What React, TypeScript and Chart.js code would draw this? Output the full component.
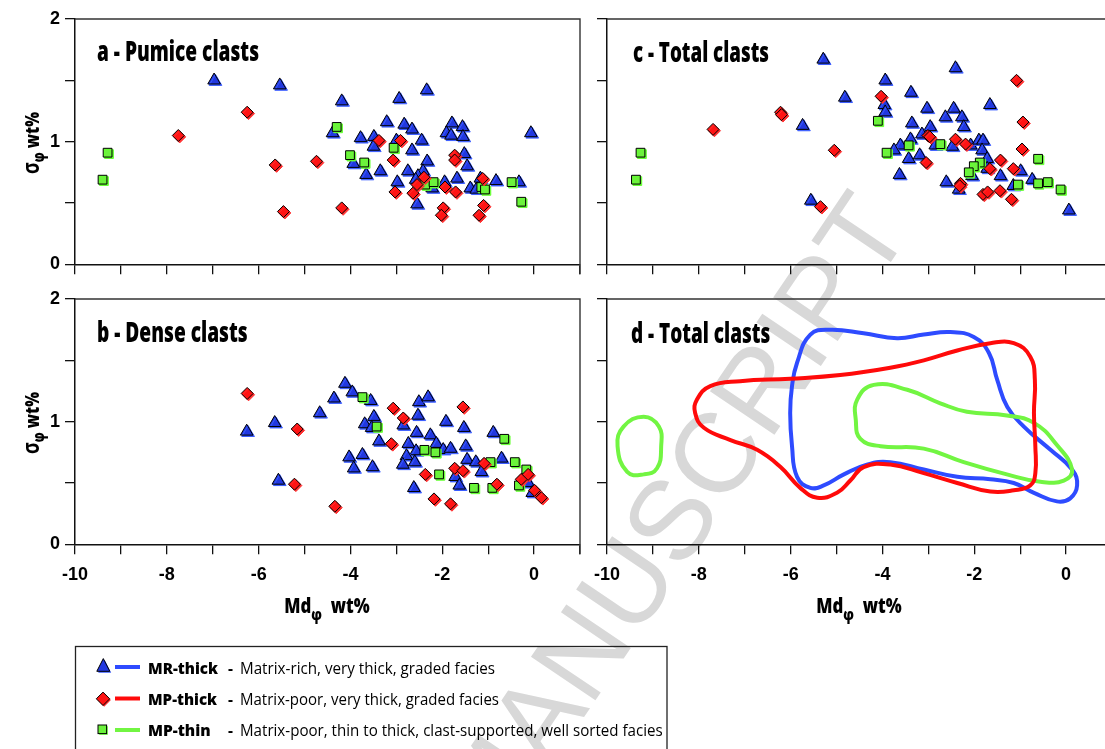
import React, { useEffect, useRef } from "react";
import { Chart, registerables } from "chart.js";

Chart.register(...registerables);

type Pt = [number, number];

// ---------------- axes / labels ----------------
const X_MIN = -10;
const X_MAX = 1;
const X_STEP = 1;
const Y_MIN = 0;
const Y_MAX = 2;
const Y_STEP = 0.5;
const X_TICK_LABELS = ["-10", "-8", "-6", "-4", "-2", "0"];
const Y_TICK_LABELS = ["0", "1", "2"];

const PANEL_TITLES = ["a - Pumice clasts", "b - Dense clasts", "c - Total clasts", "d - Total clasts"];
const SERIES_NAMES = ["MR-thick", "MP-thick", "MP-thin"];
const SERIES_DESCRIPTIONS = [
  "Matrix-rich, very thick, graded facies",
  "Matrix-poor, very thick, graded facies",
  "Matrix-poor, thin to thick, clast-supported, well sorted facies",
];

// ---------------- a - Pumice clasts ----------------
const pumiceMRthick: Pt[] = [
  [-6.97, 1.5], [-5.54, 1.46], [-4.19, 1.33], [-2.94, 1.35], [-2.34, 1.42], [-3.21, 1.16], [-2.83, 1.14],
  [-2.66, 1.1], [-4.39, 1.07], [-3.78, 1.03], [-3.49, 1.04], [-3.5, 0.96], [-3.0, 1.01], [-2.45, 1.01],
  [-1.79, 1.15], [-1.56, 1.12], [-1.91, 1.07], [-1.81, 1.05], [-1.55, 1.04], [-0.07, 1.07], [-2.66, 0.93],
  [-1.52, 0.9], [-3.94, 0.82], [-3.35, 0.76], [-3.66, 0.73], [-2.33, 0.84], [-2.75, 0.76], [-2.42, 0.76],
  [-2.53, 0.72], [-1.46, 0.8], [-2.98, 0.67], [-2.58, 0.69], [-1.95, 0.67], [-1.68, 0.7], [-2.22, 0.62],
  [-1.39, 0.62], [-1.17, 0.7], [-1.26, 0.61], [-0.83, 0.68], [-0.33, 0.67], [-2.55, 0.49],
];
const pumiceMPthick: Pt[] = [
  [-7.75, 1.05], [-6.25, 1.24], [-5.64, 0.81], [-5.46, 0.43], [-4.74, 0.84], [-4.19, 0.46], [-3.38, 1.01],
  [-2.91, 1.01], [-3.07, 0.85], [-3.03, 0.59], [-2.64, 0.58], [-2.55, 0.65], [-2.4, 0.71], [-1.94, 0.63],
  [-1.98, 0.46], [-2.02, 0.4], [-1.73, 0.89], [-1.73, 0.85], [-1.71, 0.59], [-1.12, 0.7], [-1.1, 0.48],
  [-1.2, 0.4],
];
const pumiceMPthin: Pt[] = [
  [-9.29, 0.91], [-9.4, 0.69], [-4.3, 1.12], [-4.01, 0.89], [-3.7, 0.83], [-3.06, 0.95], [-2.37, 0.65],
  [-2.19, 0.67], [-1.15, 0.63], [-1.07, 0.61], [-0.49, 0.67], [-0.28, 0.51],
];

// ---------------- b - Dense clasts ----------------
const denseMRthick: Pt[] = [
  [-6.26, 0.92], [-5.65, 0.99], [-5.57, 0.52], [-4.67, 1.07], [-4.36, 1.19], [-4.12, 1.31], [-3.96, 1.24],
  [-3.56, 1.17], [-3.49, 1.04], [-3.69, 0.98], [-3.54, 0.95], [-3.38, 0.84], [-4.03, 0.71], [-3.74, 0.73],
  [-3.93, 0.62], [-3.52, 0.63], [-2.85, 0.97], [-2.53, 1.05], [-2.51, 1.16], [-2.31, 1.2], [-2.56, 0.91],
  [-2.74, 0.82], [-2.26, 0.89], [-2.13, 0.82], [-2.57, 0.76], [-2.78, 0.72], [-2.86, 0.65], [-2.6, 0.67],
  [-1.98, 0.77], [-1.82, 0.78], [-1.92, 1.0], [-1.53, 0.95], [-1.49, 0.8], [-1.46, 0.69], [-1.27, 0.67],
  [-1.15, 0.59], [-1.72, 0.55], [-1.63, 0.48], [-2.62, 0.46], [-0.89, 0.91], [-0.71, 0.7], [-0.13, 0.5],
  [-0.04, 0.42],
];
const denseMPthick: Pt[] = [
  [-6.25, 1.23], [-5.16, 0.94], [-5.22, 0.49], [-4.34, 0.31], [-3.07, 1.11], [-2.85, 1.03], [-3.11, 0.82],
  [-2.37, 0.57], [-2.18, 0.37], [-1.82, 0.33], [-1.73, 0.62], [-1.55, 0.6], [-1.55, 1.12], [-1.09, 0.66],
  [-0.81, 0.49], [-0.28, 0.53], [-0.13, 0.57], [0.01, 0.44], [0.16, 0.38],
];
const denseMPthin: Pt[] = [
  [-3.74, 1.2], [-3.43, 0.96], [-2.39, 0.77], [-2.15, 0.75], [-2.07, 0.57], [-1.31, 0.46], [-0.95, 0.67],
  [-0.91, 0.46], [-0.65, 0.86], [-0.42, 0.67], [-0.17, 0.61], [-0.33, 0.48],
];

// ---------------- c - Total clasts ----------------
const totalMRthick: Pt[] = [
  [-5.29, 1.67], [-3.94, 1.5], [-4.82, 1.36], [-5.74, 1.13], [-3.96, 1.3], [-3.94, 1.24], [-3.38, 1.4],
  [-2.41, 1.6], [-3.03, 1.27], [-2.45, 1.27], [-2.63, 1.2], [-2.27, 1.2], [-2.23, 1.12], [-1.66, 1.3],
  [-3.36, 1.15], [-2.96, 1.12], [-3.14, 1.06], [-3.39, 1.02], [-3.61, 0.97], [-3.75, 0.93], [-2.85, 0.97],
  [-2.48, 0.96], [-2.08, 0.97], [-1.9, 1.01], [-1.81, 1.01], [-1.83, 0.93], [-1.72, 0.86], [-3.43, 0.86],
  [-3.19, 0.89], [-3.63, 0.73], [-1.72, 0.78], [-1.43, 0.72], [-0.99, 0.76], [-0.74, 0.69], [-2.05, 0.72],
  [-2.61, 0.67], [-2.34, 0.61], [-1.15, 0.64], [-5.56, 0.52], [0.06, 0.44],
];
const totalMPthick: Pt[] = [
  [-7.69, 1.1], [-6.22, 1.24], [-6.2, 1.22], [-4.03, 1.37], [-5.05, 0.93], [-5.35, 0.47], [-3.01, 1.05],
  [-2.97, 1.04], [-3.05, 0.83], [-2.41, 1.02], [-2.19, 0.98], [-2.3, 0.66], [-2.32, 0.64], [-1.81, 0.57],
  [-1.71, 0.59], [-1.66, 0.78], [-1.43, 0.85], [-1.44, 0.6], [-1.15, 0.78], [-1.19, 0.53], [-1.08, 1.5],
  [-0.94, 1.16], [-0.96, 0.94],
];
const totalMPthin: Pt[] = [
  [-9.27, 0.91], [-9.37, 0.69], [-4.1, 1.17], [-3.91, 0.91], [-3.43, 0.97], [-2.74, 0.98], [-1.88, 0.83],
  [-2.01, 0.8], [-2.12, 0.75], [-1.05, 0.65], [-0.61, 0.86], [-0.61, 0.66], [-0.4, 0.67], [-0.12, 0.61],
];

// ---------------- d - Total clasts (field outlines) ----------------
const outlineMRthick: Pt[] = [
  [-5.86, 1.48], [-5.57, 1.71], [-5.13, 1.75], [-4.41, 1.72], [-3.68, 1.68], [-3.1, 1.71], [-2.52, 1.73],
  [-2.01, 1.69], [-1.68, 1.56], [-1.5, 1.34], [-1.28, 1.12], [-0.92, 0.96], [-0.34, 0.77], [0.13, 0.61],
  [0.24, 0.48], [0.09, 0.375], [-0.2, 0.35], [-0.7, 0.42], [-1.14, 0.5], [-1.65, 0.53], [-2.37, 0.55],
  [-3.1, 0.61], [-3.83, 0.67], [-4.34, 0.65], [-4.84, 0.57], [-5.28, 0.48], [-5.57, 0.46], [-5.86, 0.55],
  [-5.97, 0.8], [-6.01, 1.07], [-5.97, 1.29],
];
const outlineMPthick: Pt[] = [
  [-8.04, 1.18], [-7.75, 1.29], [-7.1, 1.33], [-6.01, 1.35], [-4.92, 1.38], [-3.83, 1.44], [-3.1, 1.5],
  [-2.37, 1.58], [-1.65, 1.64], [-1.14, 1.64], [-0.78, 1.53], [-0.68, 1.34], [-0.7, 1.07], [-0.67, 0.8],
  [-0.67, 0.58], [-0.78, 0.48], [-1.14, 0.44], [-1.65, 0.43], [-2.37, 0.5], [-3.1, 0.58], [-3.83, 0.65],
  [-4.41, 0.63], [-4.7, 0.52], [-4.99, 0.42], [-5.42, 0.38], [-5.79, 0.46], [-6.22, 0.63], [-6.73, 0.77],
  [-7.31, 0.85], [-7.89, 0.95], [-8.08, 1.07],
];
const outlineMPthinLeft: Pt[] = [
  [-9.2, 1.04], [-8.87, 0.96], [-8.82, 0.8], [-8.91, 0.62], [-9.2, 0.57], [-9.56, 0.59], [-9.77, 0.8],
  [-9.64, 0.96],
];
const outlineMPthinMain: Pt[] = [
  [-4.55, 1.18], [-4.19, 1.3], [-3.46, 1.26], [-2.74, 1.15], [-2.16, 1.08], [-1.29, 1.05], [-0.7, 0.99],
  [-0.2, 0.81], [0.13, 0.61], [-0.05, 0.52], [-0.56, 0.51], [-1.29, 0.57], [-2.23, 0.67], [-3.1, 0.78],
  [-4.04, 0.8], [-4.48, 0.86], [-4.58, 1.01],
];

// ---------------- styling ----------------
const BLUE_FILL = "#2238e0";
const BLUE_EDGE = "#3a5cff";
const RED_FILL = "#ff1414";
const RED_EDGE = "#ff3030";
const GREEN_FILL = "#6cf23c";
const GREEN_EDGE = "#66ff33";
const BLUE_LINE = "#2e4bff";
const RED_LINE = "#ff0a0a";
const GREEN_LINE = "#72f542";

const TEXT_FONT = "'Open Sans', 'Noto Sans', sans-serif";
const TICK_FONT = "'Liberation Sans', Arial, sans-serif";
const ASCENT = 1.069;

const CANVAS_W = 600;
const TOP_H = 290;
const BOT_H = 330;
const PLOT_TOP = 19;
const PLOT_BOTTOM = 264.3;
const AXIS_W = 75;
const PAD_R = 20;

const toXY = (pts: Pt[]) => pts.map(([x, y]) => ({ x, y }));

function markerSets(mr: Pt[], mpThick: Pt[], mpThin: Pt[]) {
  return [
    {
      label: SERIES_NAMES[0], data: toXY(mr), pointStyle: "triangle", pointRadius: 7.3,
      backgroundColor: BLUE_FILL, borderColor: "#000", borderWidth: 1, shadowColor: BLUE_EDGE, order: 3,
    },
    {
      label: SERIES_NAMES[1], data: toXY(mpThick), pointStyle: "rectRot", pointRadius: 6,
      backgroundColor: RED_FILL, borderColor: "#000", borderWidth: 1, shadowColor: RED_EDGE, order: 1,
    },
    {
      label: SERIES_NAMES[2], data: toXY(mpThin), pointStyle: "rect", pointRadius: 6.2,
      backgroundColor: GREEN_FILL, borderColor: "#000", borderWidth: 1, shadowColor: GREEN_EDGE, order: 2,
    },
  ];
}

function outline(label: string, pts: Pt[], color: string, order: number) {
  return {
    label, data: toXY(pts), showLine: true, closed: true, tension: 0.45, pointRadius: 0,
    borderColor: color, backgroundColor: color, borderWidth: 4, fill: false, order,
    borderJoinStyle: "round", borderCapStyle: "round",
  };
}

const shadowPlugin = {
  id: "markerShadow",
  beforeDatasetDraw(chart: any, args: any) {
    const ds = chart.data.datasets[args.index];
    if (!ds.shadowColor) return;
    const ctx = chart.ctx;
    ctx.save();
    ctx.shadowColor = ds.shadowColor;
    ctx.shadowOffsetX = 1.4;
    ctx.shadowOffsetY = 1.4;
    ctx.shadowBlur = 0;
  },
  afterDatasetDraw(chart: any, args: any) {
    if (chart.data.datasets[args.index].shadowColor) chart.ctx.restore();
  },
};

const loopPlugin = {
  id: "closedOutline",
  afterDatasetsUpdate(chart: any) {
    chart.data.datasets.forEach((ds: any, i: number) => {
      if (!ds.closed) return;
      const line = chart.getDatasetMeta(i).dataset;
      if (!line) return;
      line._loop = true;
      line._fullLoop = true;
      delete line._segments;
      line._path = undefined;
      line._pointsUpdated = false;
    });
  },
};

const framePlugin = {
  id: "frame",
  afterDraw(chart: any) {
    const { ctx, chartArea } = chart;
    ctx.save();
    ctx.strokeStyle = "#333";
    ctx.lineWidth = 1.4;
    ctx.beginPath();
    ctx.moveTo(chartArea.left, chartArea.top);
    ctx.lineTo(chartArea.right, chartArea.top);
    ctx.lineTo(chartArea.right, chartArea.bottom + 10);
    ctx.stroke();
    ctx.restore();
  },
};

function Panel(props: { left: number; top: number; height: number; datasets: any[]; xLabels: boolean; yLabels: boolean }) {
  const ref = useRef<HTMLCanvasElement>(null);
  const { height, datasets, xLabels, yLabels } = props;
  useEffect(() => {
    const tickFont = { family: TICK_FONT, weight: "bold" as const, size: 18 };
    const grid = { display: true, drawOnChartArea: false, drawTicks: true, tickLength: 10, color: "#111", lineWidth: 1.3 };
    const border = { display: true, color: "#111", width: 1.5 };
    const chart = new Chart(ref.current as HTMLCanvasElement, {
      type: "scatter",
      data: { datasets: datasets as any },
      options: {
        animation: false,
        responsive: false,
        devicePixelRatio: 1,
        events: [],
        layout: { padding: { top: PLOT_TOP, right: PAD_R, left: 0, bottom: 0 } },
        plugins: { legend: { display: false }, tooltip: { enabled: false } },
        scales: {
          x: {
            type: "linear", min: X_MIN, max: X_MAX,
            afterFit: (s: any) => { s.height = height - PLOT_BOTTOM; },
            grid, border,
            ticks: {
              stepSize: X_STEP, autoSkip: false, maxRotation: 0, padding: 10, color: "#000", font: tickFont,
              callback: (v: any) => (xLabels && X_TICK_LABELS.includes(String(v)) ? String(v) : ""),
            },
          },
          y: {
            type: "linear", min: Y_MIN, max: Y_MAX,
            afterFit: (s: any) => { s.width = AXIS_W; },
            grid, border,
            ticks: {
              stepSize: Y_STEP, autoSkip: false, padding: 5, color: "#000", font: tickFont,
              callback: (v: any) => (yLabels && Y_TICK_LABELS.includes(String(v)) ? String(v) : ""),
            },
          },
        },
      } as any,
      plugins: [loopPlugin, shadowPlugin, framePlugin],
    });
    return () => chart.destroy();
  }, []);
  return (
    <canvas
      ref={ref}
      width={CANVAS_W}
      height={height}
      style={{ position: "absolute", left: props.left, top: props.top, width: CANVAS_W, height }}
    />
  );
}

const measureCanvas = typeof document !== "undefined" ? document.createElement("canvas") : null;
function textWidth(text: string, font: string) {
  const ctx = measureCanvas ? measureCanvas.getContext("2d") : null;
  if (!ctx) return 0;
  ctx.font = font;
  return ctx.measureText(text).width;
}

function Txt(props: { text: string; x: number; baseline: number; size: number; weight?: number; width?: number }) {
  const { text, x, baseline, size, weight = 700, width } = props;
  const w = textWidth(text, `${weight} ${size}px ${TEXT_FONT}`);
  const sx = width && w > 0 ? width / w : 0.8;
  return (
    <div
      style={{
        position: "absolute", left: x, top: baseline - ASCENT * size, fontFamily: TEXT_FONT, fontSize: size,
        fontWeight: weight, lineHeight: "normal", whiteSpace: "pre", color: "#000",
        transform: `scaleX(${sx})`, transformOrigin: "0 0",
      }}
    >
      {text}
    </div>
  );
}

function YTitle({ cx, cy }: { cx: number; cy: number }) {
  return (
    <div
      style={{
        position: "absolute", left: cx, top: cy, whiteSpace: "nowrap", fontFamily: TEXT_FONT, fontWeight: 800,
        fontSize: 20, lineHeight: "normal", transform: "translate(-50%,-50%) rotate(-90deg) scaleX(0.78)",
      }}
    >
      <span style={{ fontSize: "1.15em", fontWeight: 700 }}>σ</span>
      <sub style={{ fontSize: "0.75em", verticalAlign: "-0.35em", lineHeight: 0 }}>φ</sub>
      {"\u00a0wt%"}
    </div>
  );
}

function XTitle({ cx, cy }: { cx: number; cy: number }) {
  return (
    <div
      style={{
        position: "absolute", left: cx, top: cy, whiteSpace: "nowrap", fontFamily: TEXT_FONT, fontWeight: 800,
        fontSize: 21, lineHeight: "normal", transform: "translate(-50%,-50%) scaleX(0.8)",
      }}
    >
      Md<sub style={{ fontSize: "0.75em", verticalAlign: "-0.45em", lineHeight: 0 }}>φ</sub>
      {"\u00a0\u00a0wt%"}
    </div>
  );
}

function Legend() {
  const rows = [
    { y: 667, base: 673.3, color: BLUE_LINE, labelW: 70, descW: 255 },
    { y: 698.5, base: 704.5, color: RED_LINE, labelW: 69, descW: 259 },
    { y: 730, base: 735.7, color: GREEN_LINE, labelW: 62.7, descW: 422.7 },
  ];
  return (
    <>
      <svg width={1105} height={749} style={{ position: "absolute", left: 0, top: 0 }}>
        <rect x={75.5} y={646.5} width={591.5} height={120} fill="none" stroke="#222" strokeWidth={1.3} />
        <polygon points="104.7,660 111.2,672.7 98.2,672.7" fill={BLUE_EDGE} />
        <polygon points="103.3,658.6 109.8,671.3 96.8,671.3" fill={BLUE_FILL} stroke="#000" strokeWidth={1} />
        <polygon points="97.5,700 104.2,693.3 110.9,700 104.2,706.7" fill={RED_EDGE} />
        <polygon points="96.3,698.8 103,692.1 109.7,698.8 103,705.5" fill={RED_FILL} stroke="#000" strokeWidth={1} />
        <rect x={99.2} y={726.2} width={8.6} height={8.6} fill={GREEN_EDGE} />
        <rect x={98} y={725} width={8.6} height={8.6} fill={GREEN_FILL} stroke="#000" strokeWidth={1} />
        {rows.map((r, i) => (
          <line key={i} x1={115} x2={140} y1={r.y} y2={r.y} stroke={r.color} strokeWidth={4} />
        ))}
      </svg>
      {rows.map((r, i) => (
        <React.Fragment key={i}>
          <Txt text={SERIES_NAMES[i]} x={148} baseline={r.base} size={16.5} weight={800} width={r.labelW} />
          <Txt text="-" x={228} baseline={r.base} size={16.5} weight={700} width={5} />
          <Txt text={SERIES_DESCRIPTIONS[i]} x={240} baseline={r.base} size={16.5} weight={500} width={r.descW} />
        </React.Fragment>
      ))}
    </>
  );
}

export default function App() {
  const panelA = markerSets(pumiceMRthick, pumiceMPthick, pumiceMPthin);
  const panelB = markerSets(denseMRthick, denseMPthick, denseMPthin);
  const panelC = markerSets(totalMRthick, totalMPthick, totalMPthin);
  const panelD = [
    outline(SERIES_NAMES[0], outlineMRthick, BLUE_LINE, 3),
    outline(SERIES_NAMES[2], outlineMPthinLeft, GREEN_LINE, 2),
    outline(SERIES_NAMES[2], outlineMPthinMain, GREEN_LINE, 2),
    outline(SERIES_NAMES[1], outlineMPthick, RED_LINE, 1),
  ];
  return (
    <div
      style={{
        position: "fixed", left: 0, top: 0, width: 1105, height: 749, overflow: "hidden", background: "#fff",
      }}
    >
      <div
        style={{
          position: "absolute", left: 672, top: 517, transform: "translate(-50%,-50%) rotate(-56deg)",
          fontFamily: "'Liberation Sans', Arial, sans-serif", fontSize: 113, color: "#d8d8d8",
          whiteSpace: "nowrap", lineHeight: "normal",
        }}
      >
        MANUSCRIPT
      </div>
      <Panel left={0} top={0} height={TOP_H} datasets={panelA} xLabels={false} yLabels={true} />
      <Panel left={532} top={0} height={TOP_H} datasets={panelC} xLabels={false} yLabels={false} />
      <Panel left={0} top={280} height={BOT_H} datasets={panelB} xLabels={true} yLabels={true} />
      <Panel left={532} top={280} height={BOT_H} datasets={panelD} xLabels={true} yLabels={false} />

      <Txt text={PANEL_TITLES[0]} x={97.3} baseline={60.7} size={29} weight={800} width={162} />
      <Txt text={PANEL_TITLES[1]} x={97} baseline={341.7} size={29} weight={800} width={150.7} />
      <Txt text={PANEL_TITLES[2]} x={633} baseline={62} size={29} weight={800} width={136} />
      <Txt text={PANEL_TITLES[3]} x={630.7} baseline={343} size={29} weight={800} width={139.3} />

      <YTitle cx={30} cy={143} />
      <YTitle cx={30} cy={423} />
      <XTitle cx={327} cy={605} />
      <XTitle cx={859} cy={605} />

      <Legend />
    </div>
  );
}
